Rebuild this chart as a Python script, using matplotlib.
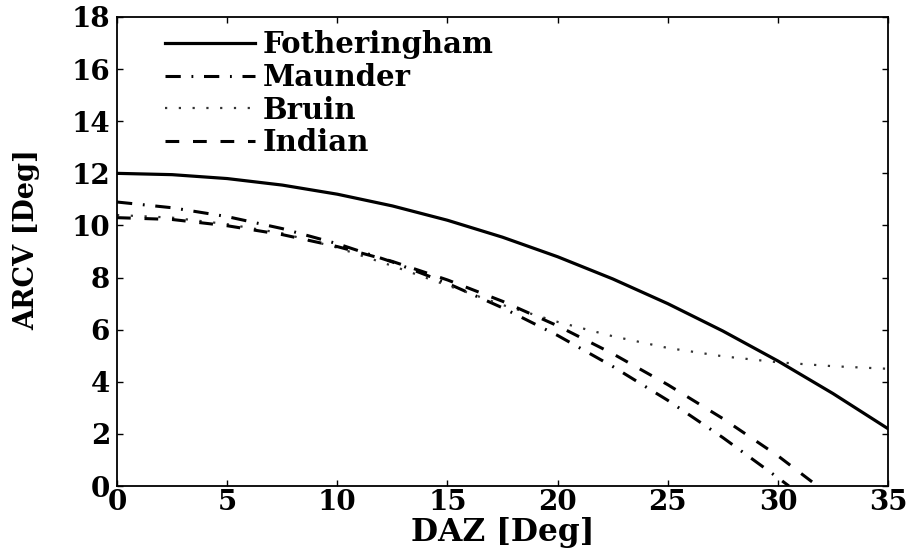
import matplotlib as mpl
mpl.use("Agg")
import matplotlib.pyplot as plt

# ARCV vs DAZ
daz = [0, 2.5, 5, 7.5, 10, 12.5, 15, 17.5, 20, 22.5, 25, 27.5, 30, 32.5, 35]
fotheringham = [12.0, 11.95, 11.8, 11.55, 11.2, 10.75, 10.2, 9.55, 8.8,
                7.95, 7.0, 5.95, 4.8, 3.55, 2.2]
bruin = [10.4, 10.3, 10.05, 9.7, 9.15, 8.45, 7.7, 6.95, 6.3,
         5.75, 5.3, 4.98, 4.75, 4.6, 4.5]
daz_maunder = [0, 2.5, 5, 7.5, 10, 12.5, 15, 17.5, 20, 22.5, 25, 27.5, 30, 30.5]
maunder = [10.9, 10.68, 10.34, 9.88, 9.3, 8.6, 7.78, 6.84, 5.78,
           4.59, 3.29, 1.86, 0.32, 0.0]
daz_indian = [0, 2.5, 5, 7.5, 10, 12.5, 15, 17.5, 20, 22.5, 25, 27.5, 30, 31.8]
indian = [10.3, 10.23, 9.99, 9.65, 9.19, 8.62, 7.91, 7.09, 6.15,
          5.08, 3.89, 2.59, 1.16, 0.0]

mpl.rcParams.update({
    "font.family": "serif",
    "font.serif": ["DejaVu Serif", "Liberation Serif"],
    "font.weight": "bold",
    "axes.linewidth": 1.3,
    "xtick.direction": "in",
    "ytick.direction": "in",
    "xtick.top": True,
    "ytick.right": True,
    "xtick.major.size": 4,
    "ytick.major.size": 4,
})

fig = plt.figure(figsize=(9.09, 5.48), dpi=100)
ax = fig.add_axes([0.1287, 0.113, 0.977 - 0.1287, 0.969 - 0.113])

ax.plot(daz, fotheringham, color="black", lw=2.3, label="Fotheringham")
ax.plot(daz_maunder, maunder, color="black", lw=2.2,
        ls=(0, (5, 3.5, 0.6, 3.5)), label="Maunder")
ax.plot(daz, bruin, color="#333333", lw=1.6, ls=(0, (1, 5.2)), label="Bruin")
ax.plot(daz_indian, indian, color="black", lw=2.2, ls=(0, (4.5, 4.5)),
        label="Indian")

ax.set_xlim(0, 35)
ax.set_ylim(0, 18)
ax.set_xticks(range(0, 36, 5))
ax.set_yticks(range(0, 19, 2))
ax.tick_params(labelsize=20, width=1.0)
ax.tick_params(axis="x", pad=2)
ax.tick_params(axis="y", pad=5)
for lab in ax.get_xticklabels() + ax.get_yticklabels():
    lab.set_fontweight("bold")

ax.set_xlabel("DAZ [Deg]", fontsize=22.5, fontweight="bold", labelpad=0.5)
ax.set_ylabel("ARCV [Deg]", fontsize=19.5, fontweight="bold")
ax.yaxis.set_label_coords(-0.099, 0.525)

leg = ax.legend(loc="upper left", bbox_to_anchor=(0.062, 0.972), frameon=False,
                fontsize=21, handlelength=3.1, handletextpad=0.27,
                labelspacing=0.13, borderaxespad=0, borderpad=0)
for t in leg.get_texts():
    t.set_fontweight("bold")

fig.savefig("out.png", dpi=100)
